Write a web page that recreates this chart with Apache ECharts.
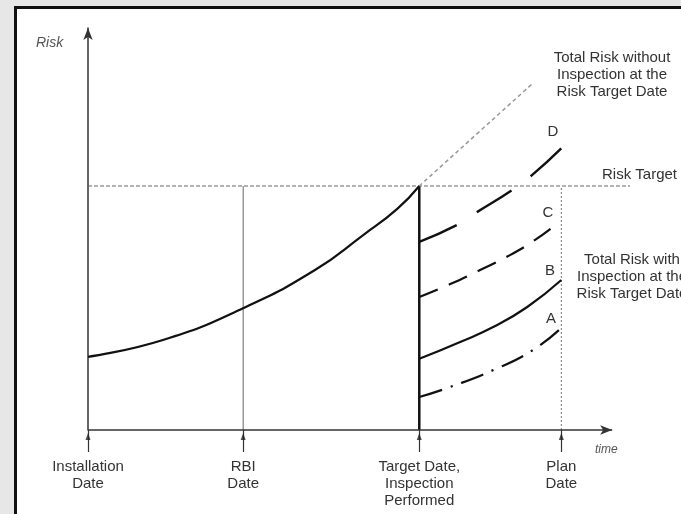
<!DOCTYPE html>
<html>
<head>
<meta charset="utf-8">
<script src="https://cdn.jsdelivr.net/npm/echarts@6/dist/echarts.min.js"></script>
<style>
  html, body { margin: 0; padding: 0; }
  body { width: 681px; height: 514px; background: #e7e7e7; position: relative; overflow: hidden; }
  .frame {
    position: absolute; left: 14px; top: 6px; width: 700px; height: 540px;
    background: #fff; border: 3px solid #111;
  }
  #chart { position: absolute; left: 0; top: 0; width: 681px; height: 514px; }
</style>
</head>
<body>
<div class="frame"></div>
<div id="chart"></div>
<script>
// milestones on the time axis
var milestoneNames = ['Installation\nDate', 'RBI\nDate', 'Target Date,\nInspection\nPerformed', 'Plan\nDate'];
var milestoneTimes = [0, 29.6, 63.2, 90.3];
var timeAxisEnd = 100;
var riskTarget = 60.7;
var riskTargetEnd = 103.4;

// risk curves (time, risk)
var baseRisk = [[0, 18.2], [14.3, 22.4], [29.6, 30.3], [43.3, 39.8], [52.5, 48.5], [59.0, 55.0], [63.2, 60.7]];
var noInspection = [[63.2, 60.7], [84.9, 86.3]];
var curveD = [[63.2, 46.8], [70.4, 51.0], [74.2, 54.2], [80.9, 59.7], [84.7, 63.4], [90.3, 70.1]];
var curveC = [[63.2, 33.1], [69.1, 36.3], [74.8, 39.8], [80.5, 43.5], [85.3, 47.3], [88.7, 50.5]];
var curveB = [[63.2, 17.7], [71.0, 21.9], [77.3, 25.6], [83.8, 30.6], [90.3, 37.3]];
var curveA = [[63.2, 8.2], [69.1, 10.7], [77.3, 14.9], [84.9, 19.9], [90.3, 25.4]];

var FONT = '"Liberation Sans", Arial, sans-serif';
var myChart = echarts.init(document.getElementById('chart'), null, { renderer: 'canvas' });

function vline(t, color, width, type) {
  return {
    type: 'line', data: [[t, 0], [t, riskTarget]], symbol: 'none', silent: true,
    lineStyle: { color: color, width: width, type: type }, z: 1
  };
}

function curve(data, width, type, color) {
  return {
    type: 'line', data: data, symbol: 'none', smooth: 0.5, silent: true,
    lineStyle: { color: color || '#111', width: width, type: type, cap: 'butt' }, z: 3
  };
}

var labelText = function (v) {
  var best = 0;
  milestoneTimes.forEach(function (t, i) {
    if (Math.abs(t - v) < Math.abs(milestoneTimes[best] - v)) best = i;
  });
  return milestoneNames[best];
};

var option = {
  backgroundColor: 'transparent',
  animation: false,
  grid: { left: 88, right: 51, top: 28, bottom: 84 },
  xAxis: {
    type: 'value', min: 0, max: riskTargetEnd,
    splitLine: { show: false },
    axisLine: { show: false },
    axisTick: { show: true, customValues: milestoneTimes, inside: false, length: 22, lineStyle: { color: '#333', width: 1.2 } },
    axisLabel: {
      customValues: milestoneTimes, formatter: labelText, margin: 28,
      fontSize: 15, lineHeight: 17, color: '#333', fontFamily: FONT
    }
  },
  yAxis: {
    type: 'value', min: 0, max: 100,
    splitLine: { show: false },
    axisLine: { show: true, lineStyle: { color: '#333', width: 1.5 }, symbol: ['none', 'arrow'], symbolSize: [7, 12] },
    axisTick: { show: false },
    axisLabel: { show: false }
  },
  series: [
    {
      // time axis with arrow
      type: 'line', data: [], silent: true,
      markLine: {
        silent: true, symbol: ['none', 'arrow'], symbolSize: [7, 12], label: { show: false },
        lineStyle: { color: '#333', width: 1.5, type: 'solid' },
        data: [[{ coord: [0, 0] }, { coord: [timeAxisEnd, 0] }]]
      }
    },
    vline(milestoneTimes[1], '#666', 1, 'solid'),
    vline(milestoneTimes[2], '#111', 2.5, 'solid'),
    vline(milestoneTimes[3], '#777', 1, [2, 2]),
    {
      type: 'line', data: [[0, riskTarget], [riskTargetEnd, riskTarget]], symbol: 'none', silent: true,
      lineStyle: { color: '#666', width: 1, type: [4, 2] }, z: 1
    },
    curve(baseRisk, 2.2, 'solid'),
    curve(noInspection, 1.5, [4, 3], '#999'),
    curve(curveD, 2.4, [41, 24]),
    curve(curveC, 2.2, [20, 12]),
    curve(curveB, 2.2, 'solid'),
    curve(curveA, 2.2, [24, 9, 2, 9]),
    {
      type: 'scatter', data: milestoneTimes.map(function (t) { return [t, -1.6]; }),
      symbol: 'triangle', symbolSize: [5, 7], clip: false, silent: true,
      itemStyle: { color: '#222' }, z: 4
    }
  ],
  graphic: [
    { type: 'text', x: 36, y: 36, style: { text: 'Risk', fill: '#555', font: 'italic 14px ' + FONT } },
    { type: 'text', x: 595, y: 444, style: { text: 'time', fill: '#555', font: 'italic 12px ' + FONT } },
    { type: 'text', x: 612, y: 49, style: { text: 'Total Risk without\nInspection at the\nRisk Target Date', align: 'center', lineHeight: 17, fill: '#333', font: '15px ' + FONT } },
    { type: 'text', x: 602, y: 167, style: { text: 'Risk Target', fill: '#333', font: '15px ' + FONT } },
    { type: 'text', x: 632, y: 251, style: { text: 'Total Risk with\nInspection at the\nRisk Target Date', align: 'center', lineHeight: 17, fill: '#333', font: '15px ' + FONT } },
    { type: 'text', x: 553, y: 124, style: { text: 'D', fill: '#333', font: '15px ' + FONT, align: 'center' } },
    { type: 'text', x: 548, y: 205, style: { text: 'C', fill: '#333', font: '15px ' + FONT, align: 'center' } },
    { type: 'text', x: 550, y: 263, style: { text: 'B', fill: '#333', font: '15px ' + FONT, align: 'center' } },
    { type: 'text', x: 551, y: 311, style: { text: 'A', fill: '#333', font: '15px ' + FONT, align: 'center' } }
  ]
};

myChart.setOption(option);
</script>
</body>
</html>
